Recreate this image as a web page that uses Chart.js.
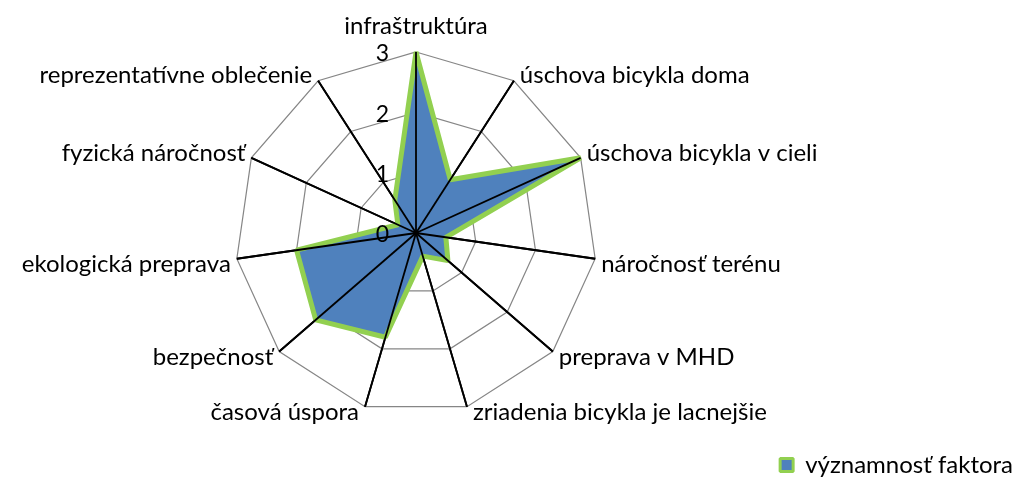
<!DOCTYPE html>
<html>
<head>
<meta charset="utf-8">
<script src="https://cdn.jsdelivr.net/npm/chart.js@4/dist/chart.umd.min.js"></script>
<style>
  html, body { margin: 0; padding: 0; background: #fff; }
  #wrap { width: 1014px; height: 483px; position: relative; }
</style>
</head>
<body>
<div id="wrap"><canvas id="radar"></canvas></div>
<script>
'use strict';

// ── Data ─────────────────────────────────────────────────────────
const categories = [
  'infraštruktúra',
  'úschova bicykla doma',
  'úschova bicykla v cieli',
  'náročnosť terénu',
  'preprava v MHD',
  'zriadenia bicykla je lacnejšie',
  'časová úspora',
  'bezpečnosť',
  'ekologická preprava',
  'fyzická náročnosť',
  'reprezentatívne oblečenie',
];
const factorValues = [3, 1.05, 3, 0.5, 0.7, 0.4, 1.8, 2.2, 2.0, 0.33, 0.65];
const tickValues = [0, 1, 2, 3];
const seriesName = 'významnosť faktora';

// ── Style ────────────────────────────────────────────────────────
const FONT = 'Lato, "Open Sans", sans-serif';
const BLUE = '#4F81BD';
const GREEN = '#92D050';

// Spokes on top of the filled area, plus tick and category labels
const radarText = {
  id: 'radarText',
  afterDatasetsDraw(chart) {
    const s = chart.scales.r;
    const ctx = chart.ctx;
    const max = tickValues[tickValues.length - 1];
    ctx.save();

    // angle lines over the data
    ctx.strokeStyle = '#000';
    ctx.lineWidth = 1.8;
    categories.forEach((_, i) => {
      const p = s.getPointPositionForValue(i, max);
      ctx.beginPath();
      ctx.moveTo(s.xCenter, s.yCenter);
      ctx.lineTo(p.x, p.y);
      ctx.stroke();
    });
    ctx.fillStyle = '#000';
    ctx.beginPath();
    ctx.arc(s.xCenter, s.yCenter, 2.5, 0, Math.PI * 2);
    ctx.fill();

    // tick labels, left of the vertical spoke
    ctx.font = `23px ${FONT}`;
    ctx.textAlign = 'right';
    ctx.textBaseline = 'middle';
    tickValues.forEach((v) => {
      const y = s.yCenter - s.getDistanceFromCenterForValue(v);
      ctx.fillText(String(v), s.xCenter - 27, y + 2);
    });

    // category labels at the outer vertices
    ctx.font = `24px ${FONT}`;
    categories.forEach((label, i) => {
      const p = s.getPointPositionForValue(i, max);
      let x = p.x;
      let y = p.y;
      if (Math.abs(p.x - s.xCenter) < 5) {
        ctx.textAlign = 'center';
        y -= 26;
      } else if (p.x > s.xCenter) {
        ctx.textAlign = 'left';
        x += 6;
        y += p.y < s.yCenter ? -5 : 6;
      } else {
        ctx.textAlign = 'right';
        x -= 6;
        y += p.y < s.yCenter ? -5 : 6;
      }
      ctx.fillText(label, x, y);
    });
    ctx.restore();
  },
};

// ── Chart ────────────────────────────────────────────────────────
const chart = new Chart(document.getElementById('radar'), {
  type: 'radar',
  data: {
    labels: categories,
    datasets: [{
      label: seriesName,
      data: factorValues,
      backgroundColor: BLUE,
      borderColor: GREEN,
      borderWidth: 5,
      borderJoinStyle: 'bevel',
      pointRadius: 0,
      fill: true,
    }],
  },
  options: {
    responsive: true,
    maintainAspectRatio: false,
    animation: false,
    layout: { padding: { right: 0, bottom: -4 } },
    plugins: {
      tooltip: { enabled: false },
      legend: {
        position: 'bottom',
        align: 'end',
        labels: {
          color: '#000',
          font: { family: FONT, size: 24 },
          boxWidth: 13,
          boxHeight: 13,
          padding: 1,
          generateLabels: (c) => Chart.defaults.plugins.legend.labels.generateLabels(c)
            .map((l) => ({ ...l, lineWidth: 3 })),
        },
      },
    },
    scales: {
      r: {
        min: 0,
        max: 3,
        ticks: { stepSize: 1, display: false },
        grid: { color: '#868686', lineWidth: 1.2 },
        angleLines: { color: '#000', lineWidth: 1.8 },
        pointLabels: { display: false },
        afterFit: (s) => {
          s.xCenter = 416;
          s.yCenter = 233;
          s.drawingArea = 181;
        },
      },
    },
  },
  plugins: [radarText],
});
</script>
</body>
</html>
